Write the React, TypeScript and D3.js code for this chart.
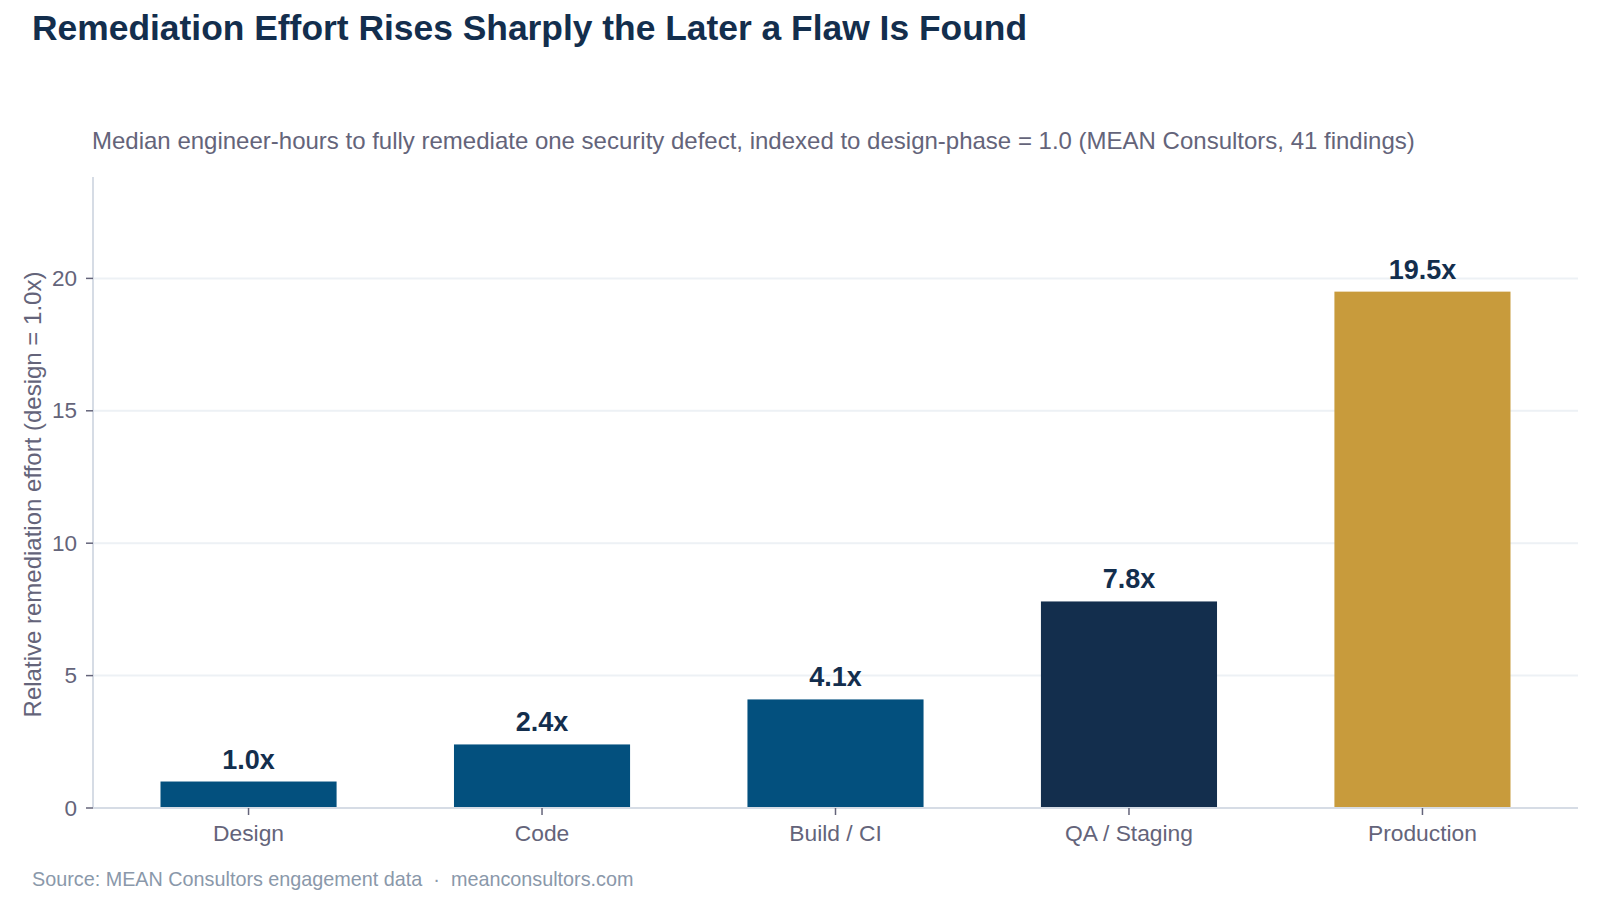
import * as d3 from "d3"

const phases = ["Design", "Code", "Build / CI", "QA / Staging", "Production"]
const effort = [1.0, 2.4, 4.1, 7.8, 19.5]
const barColors = ["#03507e", "#03507e", "#03507e", "#132e4d", "#c89b3c"]
const yTickValues = [0, 5, 10, 15, 20]

const FONT = "'Liberation Sans', Arial, sans-serif"
const TEXT_GREY = "#64647a"

const setup = {
  width: 1600,
  height: 900,
  margin: { top: 177, right: 22, bottom: 92, left: 93 },
}

export default function App() {
  const { width, height, margin } = setup

  const xScale = d3
    .scaleBand()
    .domain(phases)
    .range([margin.left, width - margin.right])
    .paddingInner(0.4)
    .paddingOuter(0.23)

  const yScale = d3
    .scaleLinear()
    .domain([0, (d3.max(effort) ?? 0) * 1.222])
    .range([height - margin.bottom, margin.top])

  const y0 = yScale(0)

  return (
    <svg
      width={width}
      height={height}
      style={{ position: "absolute", left: 0, top: 0, background: "#fff" }}
      fontFamily={FONT}
    >
      <text x={32} y={40} fontSize={35.4} fontWeight="bold" fill="#132e4d">
        Remediation Effort Rises Sharply the Later a Flaw Is Found
      </text>
      <text x={92} y={149} fontSize={24} fill={TEXT_GREY}>
        Median engineer-hours to fully remediate one security defect, indexed to design-phase = 1.0 (MEAN
        Consultors, 41 findings)
      </text>

      {/* grid */}
      {yTickValues
        .filter((t) => t > 0)
        .map((t) => (
          <line
            key={`g${t}`}
            x1={margin.left}
            x2={width - margin.right}
            y1={yScale(t)}
            y2={yScale(t)}
            stroke="#edf1f5"
            strokeWidth={2}
          />
        ))}

      {/* y axis */}
      <line x1={margin.left} x2={margin.left} y1={margin.top} y2={y0} stroke="#d6dce5" strokeWidth={2} />
      {yTickValues.map((t) => (
        <g key={`y${t}`}>
          <line x1={margin.left - 7} x2={margin.left} y1={yScale(t)} y2={yScale(t)} stroke={TEXT_GREY} strokeWidth={1.5} />
          <text
            x={margin.left - 16}
            y={yScale(t)}
            textAnchor="end"
            dominantBaseline="central"
            fontSize={22.5}
            fill={TEXT_GREY}
          >
            {t}
          </text>
        </g>
      ))}
      <text
        transform={`translate(32, ${(margin.top + y0) / 2 + 2}) rotate(-90)`}
        textAnchor="middle"
        dominantBaseline="central"
        fontSize={24}
        fill={TEXT_GREY}
      >
        Relative remediation effort (design = 1.0x)
      </text>

      {/* bars */}
      {phases.map((p, i) => (
        <rect
          key={`b${p}`}
          x={xScale(p)}
          y={yScale(effort[i])}
          width={xScale.bandwidth()}
          height={y0 - yScale(effort[i])}
          fill={barColors[i]}
        />
      ))}
      {phases.map((p, i) => (
        <text
          key={`v${p}`}
          x={(xScale(p) ?? 0) + xScale.bandwidth() / 2}
          y={yScale(effort[i]) - 13}
          textAnchor="middle"
          fontSize={27}
          fontWeight="bold"
          fill="#132e4d"
        >
          {effort[i].toFixed(1)}x
        </text>
      ))}

      {/* x axis */}
      <line x1={margin.left} x2={width - margin.right} y1={y0} y2={y0} stroke="#d6dce5" strokeWidth={2} />
      {phases.map((p) => {
        const cx = (xScale(p) ?? 0) + xScale.bandwidth() / 2
        return (
          <g key={`x${p}`}>
            <line x1={cx} x2={cx} y1={y0} y2={y0 + 7} stroke={TEXT_GREY} strokeWidth={1.5} />
            <text x={cx} y={y0 + 33} textAnchor="middle" fontSize={22.8} fill={TEXT_GREY}>
              {p}
            </text>
          </g>
        )
      })}

      <text x={32} y={886} fontSize={19.8} fill="#8a98aa" xmlSpace="preserve">
        Source: MEAN Consultors engagement data  ·  meanconsultors.com
      </text>
    </svg>
  )
}
